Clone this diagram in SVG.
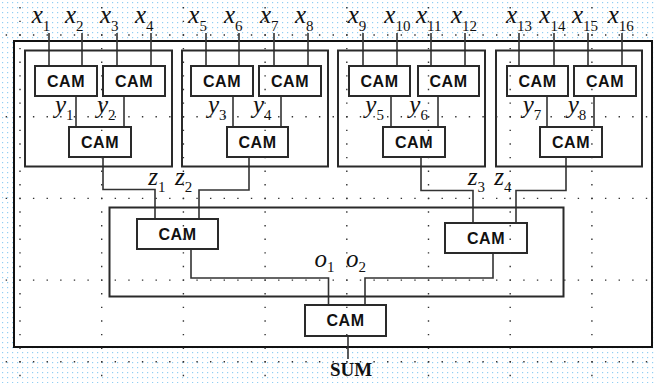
<svg xmlns="http://www.w3.org/2000/svg" width="656" height="383" viewBox="0 0 656 383">
<defs>
<pattern id="blue" x="0" y="0" width="5" height="5" patternUnits="userSpaceOnUse">
<rect x="2" y="2" width="1.2" height="1.2" fill="#93cff3"/>
</pattern>
<style>
.blk{fill:none;stroke:#2a2a2a;stroke-width:2}
.cam{fill:#fff;stroke:#2a2a2a;stroke-width:2}
.c{font-family:"Liberation Sans",Arial,sans-serif;font-weight:bold;font-size:16px;letter-spacing:0.6px;text-anchor:middle;fill:#111}
.w{fill:none;stroke:#333;stroke-width:1.6}
.v{font-family:"Liberation Serif","Times New Roman",serif;font-style:italic;font-size:25px;fill:#111}
.s{font-style:normal;font-size:15px}
.gv{stroke:#333;stroke-width:1.4;stroke-dasharray:1.4 12.22}
.gh{stroke:#333;stroke-width:1.4;stroke-dasharray:1.4 12.22}
.sum{font-family:"Liberation Serif","Times New Roman",serif;font-weight:bold;font-size:19px;text-anchor:middle;fill:#111}
</style>
</defs>
<rect x="0" y="0" width="656" height="383" fill="#fff"/>
<rect x="0" y="0" width="656" height="383" fill="url(#blue)"/>
<rect id="main" x="14" y="41" width="638" height="306" fill="#fff" stroke="#111" stroke-width="2"/>

<g id="labels">
<text class="v" x="31.7" y="23.3">x<tspan class="s" dy="8">1</tspan></text>
<text class="v" x="65" y="23.3">x<tspan class="s" dy="8">2</tspan></text>
<text class="v" x="100" y="23.3">x<tspan class="s" dy="8">3</tspan></text>
<text class="v" x="135" y="23.3">x<tspan class="s" dy="8">4</tspan></text>
<text class="v" x="188.3" y="23.3">x<tspan class="s" dy="8">5</tspan></text>
<text class="v" x="224" y="23.3">x<tspan class="s" dy="8">6</tspan></text>
<text class="v" x="260" y="23.3">x<tspan class="s" dy="8">7</tspan></text>
<text class="v" x="295" y="23.3">x<tspan class="s" dy="8">8</tspan></text>
<text class="v" x="347.7" y="23.3">x<tspan class="s" dy="8">9</tspan></text>
<text class="v" x="384.3" y="23.3">x<tspan class="s" dy="8">10</tspan></text>
<text class="v" x="416" y="23.3">x<tspan class="s" dy="8">11</tspan></text>
<text class="v" x="451" y="23.3">x<tspan class="s" dy="8">12</tspan></text>
<text class="v" x="506" y="23.3">x<tspan class="s" dy="8">13</tspan></text>
<text class="v" x="539.3" y="23.3">x<tspan class="s" dy="8">14</tspan></text>
<text class="v" x="572" y="23.3">x<tspan class="s" dy="8">15</tspan></text>
<text class="v" x="607.7" y="23.3">x<tspan class="s" dy="8">16</tspan></text>
<text class="v" x="55" y="113">y<tspan class="s" dy="7">1</tspan></text>
<text class="v" x="97" y="113">y<tspan class="s" dy="7">2</tspan></text>
<text class="v" x="208" y="113">y<tspan class="s" dy="7">3</tspan></text>
<text class="v" x="253" y="113">y<tspan class="s" dy="7">4</tspan></text>
<text class="v" x="365.3" y="113">y<tspan class="s" dy="7">5</tspan></text>
<text class="v" x="409.3" y="113">y<tspan class="s" dy="7">6</tspan></text>
<text class="v" x="522.7" y="113">y<tspan class="s" dy="7">7</tspan></text>
<text class="v" x="567.7" y="113">y<tspan class="s" dy="7">8</tspan></text>
<text class="v" x="148.3" y="185">z<tspan class="s" dy="7">1</tspan></text>
<text class="v" x="175" y="185">z<tspan class="s" dy="7">2</tspan></text>
<text class="v" x="467.7" y="185">z<tspan class="s" dy="7">3</tspan></text>
<text class="v" x="494.3" y="185">z<tspan class="s" dy="7">4</tspan></text>
<text class="v" x="314.6" y="267">o<tspan class="s" dy="5">1</tspan></text>
<text class="v" x="346" y="267">o<tspan class="s" dy="5">2</tspan></text>
<text class="sum" x="351" y="376">SUM</text>
</g>

<g id="connectors">
<path class="w" d="M49 33V66M82 33V66M117 33V66M151 33V66"/>
<path class="w" d="M206 33V66M239 33V66M274 33V66M308 33V66"/>
<path class="w" d="M363 33V66M397 33V66M431 33V66M465 33V66"/>
<path class="w" d="M519 33V66M554 33V66M588 33V66M622 33V66"/>
<path class="w" d="M76 96V127M124 96V127M233 96V127M281 96V127M391 96V127M438 96V127M547 96V127M594 96V127"/>
<path class="w" d="M103 157V189.5H155V219"/>
<path class="w" d="M249 157V190H199V219"/>
<path class="w" d="M421 157V190.5H473V223"/>
<path class="w" d="M566 157V190.5H516V223"/>
<path class="w" d="M191 249V278H328.5V305"/>
<path class="w" d="M493 253V278H365V305"/>
<path class="w" d="M348 336V359"/>
</g>

<g id="block1">
<rect class="blk" x="25" y="50.5" width="147" height="116"/>
<rect class="cam" x="35" y="66" width="62" height="30"/><text class="c" x="66" y="87">CAM</text>
<rect class="cam" x="103" y="66" width="62" height="30"/><text class="c" x="134" y="87">CAM</text>
<rect class="cam" x="69" y="127" width="62" height="30"/><text class="c" x="100" y="148">CAM</text>
</g>
<g id="block2">
<rect class="blk" x="182" y="50.5" width="146" height="116"/>
<rect class="cam" x="191" y="66" width="62" height="30"/><text class="c" x="222" y="87">CAM</text>
<rect class="cam" x="259" y="66" width="62" height="30"/><text class="c" x="290" y="87">CAM</text>
<rect class="cam" x="227" y="127" width="61" height="30"/><text class="c" x="257.5" y="148">CAM</text>
</g>
<g id="block3">
<rect class="blk" x="338" y="50.5" width="147" height="116"/>
<rect class="cam" x="349" y="66" width="61" height="30"/><text class="c" x="379.5" y="87">CAM</text>
<rect class="cam" x="418" y="66" width="61" height="30"/><text class="c" x="448.5" y="87">CAM</text>
<rect class="cam" x="383" y="127" width="62" height="30"/><text class="c" x="414" y="148">CAM</text>
</g>
<g id="block4">
<rect class="blk" x="496" y="50.5" width="146" height="116"/>
<rect class="cam" x="507" y="66" width="61" height="30"/><text class="c" x="537.5" y="87">CAM</text>
<rect class="cam" x="574" y="66" width="62" height="30"/><text class="c" x="605" y="87">CAM</text>
<rect class="cam" x="540" y="127" width="62" height="30"/><text class="c" x="571" y="148">CAM</text>
</g>
<g id="middle">
<rect class="blk" x="109.5" y="207.5" width="454" height="89"/>
<rect class="cam" x="137" y="219" width="81" height="30"/><text class="c" x="177.5" y="240">CAM</text>
<rect class="cam" x="445" y="223" width="82" height="30"/><text class="c" x="486" y="244">CAM</text>
</g>
<g id="final">
<rect class="cam" x="305" y="305" width="81" height="31"/><text class="c" x="345.5" y="326">CAM</text>
</g>

<g id="grid">
<line class="gv" x1="20" y1="7.06" x2="20" y2="383"/>
<line class="gv" x1="101.7" y1="7.06" x2="101.7" y2="383"/>
<line class="gv" x1="183.4" y1="7.06" x2="183.4" y2="383"/>
<line class="gv" x1="265.1" y1="7.06" x2="265.1" y2="383"/>
<line class="gv" x1="346.8" y1="7.06" x2="346.8" y2="383"/>
<line class="gv" x1="428.5" y1="7.06" x2="428.5" y2="383"/>
<line class="gv" x1="510.2" y1="7.06" x2="510.2" y2="383"/>
<line class="gv" x1="591.9" y1="7.06" x2="591.9" y2="383"/>
<line class="gh" x1="5.68" y1="35" x2="656" y2="35"/>
<line class="gh" x1="5.68" y1="116.7" x2="656" y2="116.7"/>
<line class="gh" x1="5.68" y1="198.4" x2="656" y2="198.4"/>
<line class="gh" x1="5.68" y1="280.1" x2="656" y2="280.1"/>
<line class="gh" x1="5.68" y1="361.8" x2="656" y2="361.8"/>
</g>
</svg>
